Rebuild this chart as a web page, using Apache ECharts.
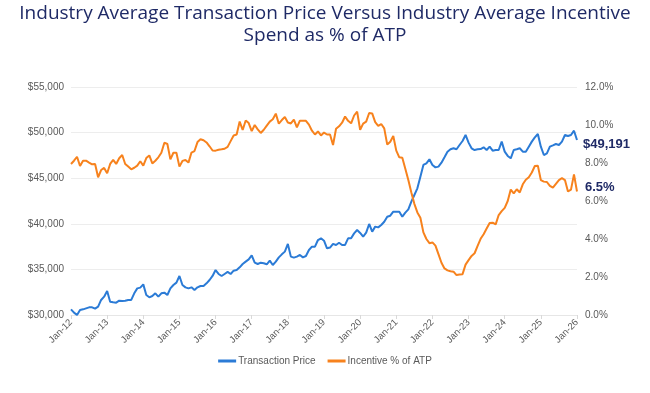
<!DOCTYPE html>
<html>
<head>
<meta charset="utf-8">
<script src="https://cdn.jsdelivr.net/npm/echarts@6/dist/echarts.min.js"></script>
<style>
html,body{margin:0;padding:0;background:#fff;}
#c{width:650px;height:393px;}
</style>
</head>
<body>
<div id="c"></div>
<script>
var monthNames = ['Jan','Feb','Mar','Apr','May','Jun','Jul','Aug','Sep','Oct','Nov','Dec'];
var startYear = 2012;
var tickLabels = ['Jan-12','Jan-13','Jan-14','Jan-15','Jan-16','Jan-17','Jan-18','Jan-19','Jan-20','Jan-21','Jan-22','Jan-23','Jan-24','Jan-25','Jan-26'];
var titleLines = ['Industry Average Transaction Price Versus Industry Average Incentive', 'Spend as % of ATP'];

var transactionPrice = [
30620,30260,30000,30550,30620,30730,30840,30840,30690,30910,31650,32010,
32630,31460,31390,31350,31570,31540,31570,31650,31650,32380,32920,33000,
33360,32190,31940,32080,32380,32010,32380,32450,32190,32920,33290,33550,
34280,33290,33030,32920,33030,32740,33030,33180,33180,33470,33840,34280,
34930,34500,34280,34500,34720,34500,34860,34930,35230,35590,35850,36100,
36540,35740,35590,35740,35670,35560,35960,35480,35850,36320,36650,36950,
37790,36400,36290,36400,36580,36320,36470,37130,37490,37490,38220,38410,
38150,37310,37400,37800,37680,37930,37680,37680,38410,38410,38950,39320,
39000,38590,39030,39980,39140,39690,39610,39870,40230,40780,40890,41330,
41330,41330,40780,41220,41590,42430,43160,43890,45170,46450,46630,47070,
46450,46190,46270,46700,47290,47910,48170,48280,48170,48640,49080,49740,
48900,48280,48090,48170,48200,48390,48090,48460,48020,48090,48090,49010,
47910,47440,47180,48090,48170,48280,47910,47910,48460,49010,49480,49850,
48460,47540,47730,48460,48600,48750,48640,49010,49740,49630,49740,50210,
49191
];

var incentivePct = [
7.95,8.12,8.33,7.84,8.12,8.12,8.02,7.93,7.95,7.25,7.63,7.74,
7.46,7.95,8.16,7.95,8.25,8.42,7.95,7.81,7.67,7.75,7.86,8.09,
7.86,8.26,8.40,7.98,8.12,8.30,8.54,9.07,9.00,8.19,8.54,8.54,
7.81,8.11,8.16,8.02,8.55,8.63,9.10,9.25,9.20,9.08,8.88,8.66,
8.65,8.70,8.72,8.75,8.85,9.15,9.45,9.50,10.18,9.74,10.24,10.10,
9.68,10.00,9.77,9.58,9.75,9.97,10.18,10.30,10.60,10.07,10.26,10.42,
10.13,10.08,10.28,9.87,10.23,10.23,10.22,10.02,9.70,9.50,9.66,9.45,
9.60,9.50,9.50,8.95,9.80,9.93,10.12,10.45,10.22,10.09,10.50,10.70,
9.75,10.07,10.18,10.63,10.61,10.15,9.95,10.05,9.82,8.97,9.12,9.42,
8.65,8.30,8.28,7.70,7.10,6.45,5.85,5.40,5.12,4.35,4.00,3.78,
3.82,3.65,3.20,2.75,2.45,2.35,2.30,2.28,2.10,2.13,2.15,2.65,
2.89,3.11,3.25,3.64,4.01,4.25,4.55,4.84,4.86,4.77,5.26,5.47,
5.64,6.00,6.60,6.40,6.62,6.45,6.88,7.12,7.25,7.50,7.84,7.86,
7.10,7.02,7.00,6.80,6.70,6.90,7.10,7.20,7.10,6.50,6.60,7.40,
6.50
];

var categories = [];
for (var i = 0; i < transactionPrice.length; i++) {
  var y = startYear + Math.floor(i / 12);
  categories.push(monthNames[i % 12] + '-' + String(y).slice(2));
}

var chart = echarts.init(document.getElementById('c'), null, {renderer: 'canvas'});
var navy = '#1f2a66';
var gray = '#595959';
var titleStyle = {
  fontFamily: 'Open Sans, sans-serif',
  fontSize: 19,
  fontWeight: 'normal',
  color: navy
};
var option = {
  animation: false,
  textStyle: {fontFamily: 'Liberation Sans, Arial, sans-serif'},
  title: [
    {text: titleLines[0], left: 'center', top: 4, padding: 0, textStyle: titleStyle},
    {text: titleLines[1], left: 'center', top: 26, padding: 0, textStyle: titleStyle}
  ],
  legend: {
    top: 351,
    left: 'center',
    icon: 'rect',
    itemWidth: 18,
    itemHeight: 3,
    itemGap: 12,
    textStyle: {fontSize: 10, color: gray, padding: [0,0,0,-3]},
    data: ['Transaction Price', 'Incentive % of ATP']
  },
  grid: {left: 71, right: 73, top: 87, bottom: 78, containLabel: false},
  xAxis: {
    type: 'category',
    data: categories,
    boundaryGap: false,
    axisLine: {show: true, lineStyle: {color: '#e6e6e6'}},
    axisTick: {
      show: true,
      length: 4,
      lineStyle: {color: '#d9d9d9'},
      interval: function (idx, val) { return tickLabels.indexOf(val) >= 0; }
    },
    axisLabel: {
      interval: function (idx, val) { return tickLabels.indexOf(val) >= 0; },
      rotate: 45,
      fontSize: 9.5,
      color: gray,
      margin: 6
    },
    splitLine: {show: false}
  },
  yAxis: [
    {
      type: 'value',
      min: 30000,
      max: 55000,
      interval: 5000,
      axisLine: {show: false},
      axisTick: {show: false},
      axisLabel: {
        fontSize: 10,
        color: gray,
        margin: 7,
        formatter: function (v) { return '$' + v.toLocaleString('en-US'); }
      },
      splitLine: {show: true, lineStyle: {color: '#ededed'}}
    },
    {
      type: 'value',
      min: 0,
      max: 12,
      interval: 2,
      position: 'right',
      axisLine: {show: false},
      axisTick: {show: false},
      axisLabel: {
        fontSize: 10,
        color: gray,
        margin: 8,
        formatter: function (v) { return v.toFixed(1) + '%'; }
      },
      splitLine: {show: false}
    }
  ],
  series: [
    {
      name: 'Transaction Price',
      type: 'line',
      data: transactionPrice,
      yAxisIndex: 0,
      showSymbol: false,
      symbol: 'none',
      lineStyle: {color: '#2b7bd6', width: 2},
      itemStyle: {color: '#2b7bd6'},
      endLabel: {
        show: true,
        offset: [-2, 4],
        formatter: function (p) { return '$' + p.value.toLocaleString('en-US'); },
        fontSize: 13,
        fontWeight: 'bold',
        color: navy
      }
    },
    {
      name: 'Incentive % of ATP',
      type: 'line',
      data: incentivePct,
      yAxisIndex: 1,
      showSymbol: false,
      symbol: 'none',
      lineStyle: {color: '#f7821d', width: 2},
      itemStyle: {color: '#f7821d'},
      endLabel: {
        show: true,
        offset: [0, -4],
        formatter: function (p) { return p.value.toFixed(1) + '%'; },
        fontSize: 13,
        fontWeight: 'bold',
        color: navy
      }
    }
  ]
};
chart.setOption(option);
</script>
</body>
</html>
